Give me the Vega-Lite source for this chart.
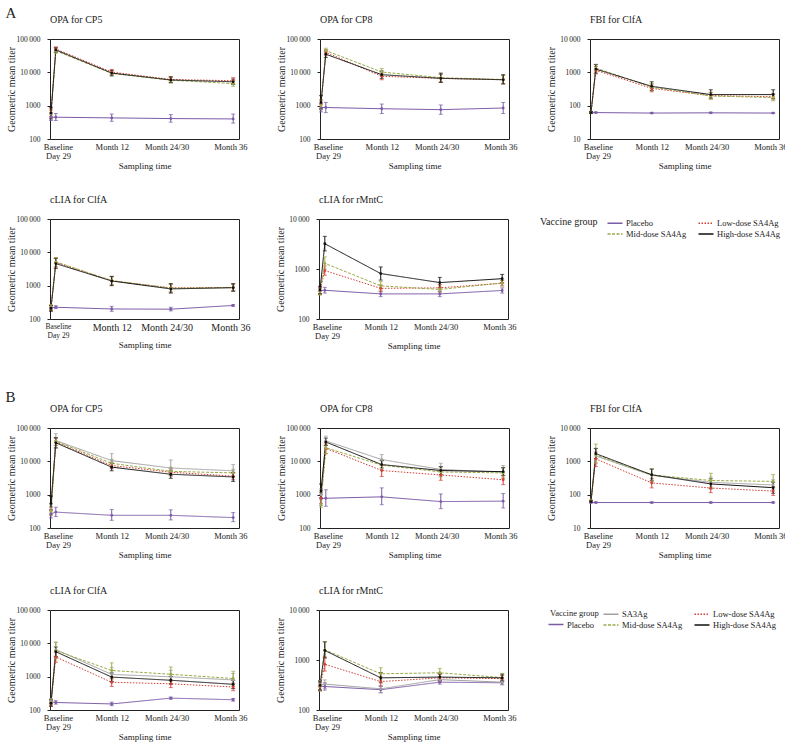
{
"$schema":"https://vega.github.io/schema/vega-lite/v6.json",
"background":"white",
"padding":{"left":5,"top":5,"right":0,"bottom":5},
"datasets":{"d":[
{"p":"A1","g":"Placebo","t":0,"v":450,"lo":360,"hi":560},
{"p":"A1","g":"Placebo","t":29,"v":450,"lo":360,"hi":580},
{"p":"A1","g":"Placebo","t":365,"v":430,"lo":340,"hi":560},
{"p":"A1","g":"Placebo","t":720,"v":410,"lo":320,"hi":540},
{"p":"A1","g":"Placebo","t":1095,"v":400,"lo":300,"hi":560},
{"p":"A1","g":"Low-dose SA4Ag","t":0,"v":620,"lo":480,"hi":800},
{"p":"A1","g":"Low-dose SA4Ag","t":29,"v":50000,"lo":43000,"hi":58000},
{"p":"A1","g":"Low-dose SA4Ag","t":365,"v":10200,"lo":8600,"hi":12200},
{"p":"A1","g":"Low-dose SA4Ag","t":720,"v":6100,"lo":5100,"hi":7400},
{"p":"A1","g":"Low-dose SA4Ag","t":1095,"v":5600,"lo":4600,"hi":6900},
{"p":"A1","g":"Mid-dose SA4Ag","t":0,"v":560,"lo":430,"hi":730},
{"p":"A1","g":"Mid-dose SA4Ag","t":29,"v":44000,"lo":37000,"hi":52000},
{"p":"A1","g":"Mid-dose SA4Ag","t":365,"v":9300,"lo":7800,"hi":11000},
{"p":"A1","g":"Mid-dose SA4Ag","t":720,"v":5800,"lo":4800,"hi":7000},
{"p":"A1","g":"Mid-dose SA4Ag","t":1095,"v":4600,"lo":3800,"hi":5600},
{"p":"A1","g":"High-dose SA4Ag","t":0,"v":600,"lo":400,"hi":900},
{"p":"A1","g":"High-dose SA4Ag","t":29,"v":47000,"lo":40000,"hi":55000},
{"p":"A1","g":"High-dose SA4Ag","t":365,"v":9500,"lo":7900,"hi":11500},
{"p":"A1","g":"High-dose SA4Ag","t":720,"v":5900,"lo":4900,"hi":7300},
{"p":"A1","g":"High-dose SA4Ag","t":1095,"v":5200,"lo":4300,"hi":6300},
{"p":"A2","g":"Placebo","t":0,"v":880,"lo":650,"hi":1150},
{"p":"A2","g":"Placebo","t":29,"v":880,"lo":620,"hi":1250},
{"p":"A2","g":"Placebo","t":365,"v":810,"lo":580,"hi":1120},
{"p":"A2","g":"Placebo","t":720,"v":760,"lo":550,"hi":1050},
{"p":"A2","g":"Placebo","t":1095,"v":850,"lo":580,"hi":1250},
{"p":"A2","g":"Low-dose SA4Ag","t":0,"v":1100,"lo":800,"hi":1500},
{"p":"A2","g":"Low-dose SA4Ag","t":29,"v":40000,"lo":33000,"hi":48000},
{"p":"A2","g":"Low-dose SA4Ag","t":365,"v":7600,"lo":6000,"hi":9600},
{"p":"A2","g":"Low-dose SA4Ag","t":720,"v":6600,"lo":5000,"hi":8600},
{"p":"A2","g":"Low-dose SA4Ag","t":1095,"v":6000,"lo":4500,"hi":8000},
{"p":"A2","g":"Mid-dose SA4Ag","t":0,"v":1000,"lo":750,"hi":1400},
{"p":"A2","g":"Mid-dose SA4Ag","t":29,"v":45000,"lo":37000,"hi":53000},
{"p":"A2","g":"Mid-dose SA4Ag","t":365,"v":10200,"lo":8000,"hi":13000},
{"p":"A2","g":"Mid-dose SA4Ag","t":720,"v":6900,"lo":5300,"hi":9000},
{"p":"A2","g":"Mid-dose SA4Ag","t":1095,"v":6100,"lo":4600,"hi":8100},
{"p":"A2","g":"High-dose SA4Ag","t":0,"v":1250,"lo":800,"hi":2000},
{"p":"A2","g":"High-dose SA4Ag","t":29,"v":35000,"lo":28000,"hi":44000},
{"p":"A2","g":"High-dose SA4Ag","t":365,"v":8500,"lo":6600,"hi":11000},
{"p":"A2","g":"High-dose SA4Ag","t":720,"v":6600,"lo":5000,"hi":9500},
{"p":"A2","g":"High-dose SA4Ag","t":1095,"v":6000,"lo":4500,"hi":8500},
{"p":"A3","g":"Placebo","t":0,"v":62,"lo":60,"hi":65},
{"p":"A3","g":"Placebo","t":29,"v":62,"lo":60,"hi":65},
{"p":"A3","g":"Placebo","t":365,"v":60,"lo":58,"hi":63},
{"p":"A3","g":"Placebo","t":720,"v":61,"lo":59,"hi":64},
{"p":"A3","g":"Placebo","t":1095,"v":60,"lo":58,"hi":63},
{"p":"A3","g":"Low-dose SA4Ag","t":0,"v":62,"lo":58,"hi":67},
{"p":"A3","g":"Low-dose SA4Ag","t":29,"v":1150,"lo":900,"hi":1500},
{"p":"A3","g":"Low-dose SA4Ag","t":365,"v":330,"lo":260,"hi":420},
{"p":"A3","g":"Low-dose SA4Ag","t":720,"v":200,"lo":160,"hi":250},
{"p":"A3","g":"Low-dose SA4Ag","t":1095,"v":185,"lo":150,"hi":230},
{"p":"A3","g":"Mid-dose SA4Ag","t":0,"v":62,"lo":58,"hi":67},
{"p":"A3","g":"Mid-dose SA4Ag","t":29,"v":1350,"lo":1050,"hi":1750},
{"p":"A3","g":"Mid-dose SA4Ag","t":365,"v":360,"lo":280,"hi":460},
{"p":"A3","g":"Mid-dose SA4Ag","t":720,"v":195,"lo":155,"hi":245},
{"p":"A3","g":"Mid-dose SA4Ag","t":1095,"v":175,"lo":140,"hi":220},
{"p":"A3","g":"High-dose SA4Ag","t":0,"v":62,"lo":58,"hi":67},
{"p":"A3","g":"High-dose SA4Ag","t":29,"v":1250,"lo":950,"hi":1700},
{"p":"A3","g":"High-dose SA4Ag","t":365,"v":380,"lo":290,"hi":520},
{"p":"A3","g":"High-dose SA4Ag","t":720,"v":215,"lo":170,"hi":300},
{"p":"A3","g":"High-dose SA4Ag","t":1095,"v":215,"lo":165,"hi":300},
{"p":"A4","g":"Placebo","t":0,"v":220,"lo":195,"hi":250},
{"p":"A4","g":"Placebo","t":29,"v":225,"lo":205,"hi":250},
{"p":"A4","g":"Placebo","t":365,"v":200,"lo":170,"hi":240},
{"p":"A4","g":"Placebo","t":720,"v":197,"lo":175,"hi":225},
{"p":"A4","g":"Placebo","t":1095,"v":255,"lo":240,"hi":270},
{"p":"A4","g":"Low-dose SA4Ag","t":0,"v":220,"lo":180,"hi":260},
{"p":"A4","g":"Low-dose SA4Ag","t":29,"v":5000,"lo":3600,"hi":6800},
{"p":"A4","g":"Low-dose SA4Ag","t":365,"v":1400,"lo":1050,"hi":1850},
{"p":"A4","g":"Low-dose SA4Ag","t":720,"v":860,"lo":650,"hi":1100},
{"p":"A4","g":"Low-dose SA4Ag","t":1095,"v":880,"lo":700,"hi":1100},
{"p":"A4","g":"Mid-dose SA4Ag","t":0,"v":230,"lo":190,"hi":270},
{"p":"A4","g":"Mid-dose SA4Ag","t":29,"v":5200,"lo":3800,"hi":7000},
{"p":"A4","g":"Mid-dose SA4Ag","t":365,"v":1420,"lo":1050,"hi":1900},
{"p":"A4","g":"Mid-dose SA4Ag","t":720,"v":840,"lo":620,"hi":1100},
{"p":"A4","g":"Mid-dose SA4Ag","t":1095,"v":880,"lo":700,"hi":1120},
{"p":"A4","g":"High-dose SA4Ag","t":0,"v":210,"lo":170,"hi":250},
{"p":"A4","g":"High-dose SA4Ag","t":29,"v":4600,"lo":3300,"hi":6600},
{"p":"A4","g":"High-dose SA4Ag","t":365,"v":1380,"lo":1000,"hi":1900},
{"p":"A4","g":"High-dose SA4Ag","t":720,"v":800,"lo":600,"hi":1150},
{"p":"A4","g":"High-dose SA4Ag","t":1095,"v":870,"lo":680,"hi":1150},
{"p":"A5","g":"Placebo","t":0,"v":370,"lo":320,"hi":420},
{"p":"A5","g":"Placebo","t":29,"v":375,"lo":330,"hi":430},
{"p":"A5","g":"Placebo","t":365,"v":318,"lo":280,"hi":360},
{"p":"A5","g":"Placebo","t":720,"v":318,"lo":280,"hi":360},
{"p":"A5","g":"Placebo","t":1095,"v":372,"lo":330,"hi":420},
{"p":"A5","g":"Low-dose SA4Ag","t":0,"v":360,"lo":310,"hi":420},
{"p":"A5","g":"Low-dose SA4Ag","t":29,"v":930,"lo":750,"hi":1150},
{"p":"A5","g":"Low-dose SA4Ag","t":365,"v":410,"lo":350,"hi":480},
{"p":"A5","g":"Low-dose SA4Ag","t":720,"v":420,"lo":360,"hi":490},
{"p":"A5","g":"Low-dose SA4Ag","t":1095,"v":520,"lo":460,"hi":590},
{"p":"A5","g":"Mid-dose SA4Ag","t":0,"v":350,"lo":300,"hi":410},
{"p":"A5","g":"Mid-dose SA4Ag","t":29,"v":1300,"lo":1000,"hi":1750},
{"p":"A5","g":"Mid-dose SA4Ag","t":365,"v":460,"lo":380,"hi":560},
{"p":"A5","g":"Mid-dose SA4Ag","t":720,"v":390,"lo":340,"hi":460},
{"p":"A5","g":"Mid-dose SA4Ag","t":1095,"v":525,"lo":460,"hi":600},
{"p":"A5","g":"High-dose SA4Ag","t":0,"v":380,"lo":320,"hi":450},
{"p":"A5","g":"High-dose SA4Ag","t":29,"v":3200,"lo":2300,"hi":4500},
{"p":"A5","g":"High-dose SA4Ag","t":365,"v":810,"lo":600,"hi":1100},
{"p":"A5","g":"High-dose SA4Ag","t":720,"v":535,"lo":420,"hi":680},
{"p":"A5","g":"High-dose SA4Ag","t":1095,"v":640,"lo":530,"hi":780},
{"p":"B1","g":"Placebo","t":0,"v":265,"lo":200,"hi":350},
{"p":"B1","g":"Placebo","t":29,"v":300,"lo":220,"hi":420},
{"p":"B1","g":"Placebo","t":365,"v":240,"lo":170,"hi":360},
{"p":"B1","g":"Placebo","t":720,"v":240,"lo":175,"hi":350},
{"p":"B1","g":"Placebo","t":1095,"v":205,"lo":155,"hi":290},
{"p":"B1","g":"SA3Ag","t":0,"v":380,"lo":280,"hi":500},
{"p":"B1","g":"SA3Ag","t":29,"v":42000,"lo":26000,"hi":68000},
{"p":"B1","g":"SA3Ag","t":365,"v":10500,"lo":6500,"hi":17000},
{"p":"B1","g":"SA3Ag","t":720,"v":6300,"lo":3700,"hi":11000},
{"p":"B1","g":"SA3Ag","t":1095,"v":5200,"lo":3400,"hi":8000},
{"p":"B1","g":"Low-dose SA4Ag","t":0,"v":330,"lo":250,"hi":430},
{"p":"B1","g":"Low-dose SA4Ag","t":29,"v":38000,"lo":30000,"hi":48000},
{"p":"B1","g":"Low-dose SA4Ag","t":365,"v":7500,"lo":6000,"hi":9400},
{"p":"B1","g":"Low-dose SA4Ag","t":720,"v":4700,"lo":3700,"hi":6000},
{"p":"B1","g":"Low-dose SA4Ag","t":1095,"v":3600,"lo":2800,"hi":4600},
{"p":"B1","g":"Mid-dose SA4Ag","t":0,"v":320,"lo":240,"hi":420},
{"p":"B1","g":"Mid-dose SA4Ag","t":29,"v":40000,"lo":30000,"hi":52000},
{"p":"B1","g":"Mid-dose SA4Ag","t":365,"v":8700,"lo":6500,"hi":11500},
{"p":"B1","g":"Mid-dose SA4Ag","t":720,"v":5000,"lo":3800,"hi":6600},
{"p":"B1","g":"Mid-dose SA4Ag","t":1095,"v":4500,"lo":3500,"hi":5800},
{"p":"B1","g":"High-dose SA4Ag","t":0,"v":550,"lo":350,"hi":900},
{"p":"B1","g":"High-dose SA4Ag","t":29,"v":36000,"lo":25000,"hi":52000},
{"p":"B1","g":"High-dose SA4Ag","t":365,"v":6700,"lo":5200,"hi":8600},
{"p":"B1","g":"High-dose SA4Ag","t":720,"v":4100,"lo":3100,"hi":5400},
{"p":"B1","g":"High-dose SA4Ag","t":1095,"v":3400,"lo":2500,"hi":4500},
{"p":"B2","g":"Placebo","t":0,"v":770,"lo":480,"hi":1000},
{"p":"B2","g":"Placebo","t":29,"v":780,"lo":450,"hi":1400},
{"p":"B2","g":"Placebo","t":365,"v":860,"lo":500,"hi":1600},
{"p":"B2","g":"Placebo","t":720,"v":620,"lo":380,"hi":1050},
{"p":"B2","g":"Placebo","t":1095,"v":640,"lo":400,"hi":1080},
{"p":"B2","g":"SA3Ag","t":0,"v":1000,"lo":700,"hi":1500},
{"p":"B2","g":"SA3Ag","t":29,"v":41000,"lo":30000,"hi":57000},
{"p":"B2","g":"SA3Ag","t":365,"v":11300,"lo":8000,"hi":16000},
{"p":"B2","g":"SA3Ag","t":720,"v":5700,"lo":3600,"hi":8800},
{"p":"B2","g":"SA3Ag","t":1095,"v":4700,"lo":3000,"hi":7500},
{"p":"B2","g":"Low-dose SA4Ag","t":0,"v":800,"lo":550,"hi":1150},
{"p":"B2","g":"Low-dose SA4Ag","t":29,"v":24500,"lo":17000,"hi":33000},
{"p":"B2","g":"Low-dose SA4Ag","t":365,"v":5300,"lo":3500,"hi":7500},
{"p":"B2","g":"Low-dose SA4Ag","t":720,"v":3900,"lo":2700,"hi":5200},
{"p":"B2","g":"Low-dose SA4Ag","t":1095,"v":2800,"lo":2000,"hi":3800},
{"p":"B2","g":"Mid-dose SA4Ag","t":0,"v":500,"lo":420,"hi":1200},
{"p":"B2","g":"Mid-dose SA4Ag","t":29,"v":25500,"lo":17000,"hi":37000},
{"p":"B2","g":"Mid-dose SA4Ag","t":365,"v":7700,"lo":5500,"hi":10500},
{"p":"B2","g":"Mid-dose SA4Ag","t":720,"v":4800,"lo":3400,"hi":6500},
{"p":"B2","g":"Mid-dose SA4Ag","t":1095,"v":4500,"lo":3200,"hi":6200},
{"p":"B2","g":"High-dose SA4Ag","t":0,"v":1300,"lo":800,"hi":2100},
{"p":"B2","g":"High-dose SA4Ag","t":29,"v":38000,"lo":30000,"hi":50000},
{"p":"B2","g":"High-dose SA4Ag","t":365,"v":8000,"lo":6300,"hi":10500},
{"p":"B2","g":"High-dose SA4Ag","t":720,"v":5300,"lo":4000,"hi":7000},
{"p":"B2","g":"High-dose SA4Ag","t":1095,"v":4900,"lo":3700,"hi":6500},
{"p":"B3","g":"Placebo","t":0,"v":58,"lo":56,"hi":61},
{"p":"B3","g":"Placebo","t":29,"v":58,"lo":56,"hi":61},
{"p":"B3","g":"Placebo","t":365,"v":58,"lo":56,"hi":61},
{"p":"B3","g":"Placebo","t":720,"v":58,"lo":56,"hi":61},
{"p":"B3","g":"Placebo","t":1095,"v":58,"lo":56,"hi":61},
{"p":"B3","g":"SA3Ag","t":0,"v":64,"lo":60,"hi":68},
{"p":"B3","g":"SA3Ag","t":29,"v":1450,"lo":900,"hi":2400},
{"p":"B3","g":"SA3Ag","t":365,"v":380,"lo":250,"hi":600},
{"p":"B3","g":"SA3Ag","t":720,"v":235,"lo":160,"hi":340},
{"p":"B3","g":"SA3Ag","t":1095,"v":195,"lo":140,"hi":280},
{"p":"B3","g":"Low-dose SA4Ag","t":0,"v":64,"lo":60,"hi":68},
{"p":"B3","g":"Low-dose SA4Ag","t":29,"v":1180,"lo":700,"hi":1900},
{"p":"B3","g":"Low-dose SA4Ag","t":365,"v":225,"lo":160,"hi":310},
{"p":"B3","g":"Low-dose SA4Ag","t":720,"v":158,"lo":115,"hi":215},
{"p":"B3","g":"Low-dose SA4Ag","t":1095,"v":128,"lo":95,"hi":170},
{"p":"B3","g":"Mid-dose SA4Ag","t":0,"v":64,"lo":60,"hi":68},
{"p":"B3","g":"Mid-dose SA4Ag","t":29,"v":1550,"lo":850,"hi":3300},
{"p":"B3","g":"Mid-dose SA4Ag","t":365,"v":390,"lo":250,"hi":600},
{"p":"B3","g":"Mid-dose SA4Ag","t":720,"v":266,"lo":170,"hi":440},
{"p":"B3","g":"Mid-dose SA4Ag","t":1095,"v":250,"lo":170,"hi":400},
{"p":"B3","g":"High-dose SA4Ag","t":0,"v":62,"lo":58,"hi":67},
{"p":"B3","g":"High-dose SA4Ag","t":29,"v":1700,"lo":1200,"hi":2450},
{"p":"B3","g":"High-dose SA4Ag","t":365,"v":395,"lo":270,"hi":580},
{"p":"B3","g":"High-dose SA4Ag","t":720,"v":210,"lo":150,"hi":300},
{"p":"B3","g":"High-dose SA4Ag","t":1095,"v":162,"lo":110,"hi":235},
{"p":"B4","g":"Placebo","t":0,"v":175,"lo":150,"hi":200},
{"p":"B4","g":"Placebo","t":29,"v":168,"lo":150,"hi":190},
{"p":"B4","g":"Placebo","t":365,"v":152,"lo":135,"hi":172},
{"p":"B4","g":"Placebo","t":720,"v":227,"lo":210,"hi":245},
{"p":"B4","g":"Placebo","t":1095,"v":203,"lo":185,"hi":222},
{"p":"B4","g":"SA3Ag","t":0,"v":180,"lo":145,"hi":220},
{"p":"B4","g":"SA3Ag","t":29,"v":6500,"lo":4000,"hi":10500},
{"p":"B4","g":"SA3Ag","t":365,"v":1170,"lo":700,"hi":1900},
{"p":"B4","g":"SA3Ag","t":720,"v":990,"lo":620,"hi":1550},
{"p":"B4","g":"SA3Ag","t":1095,"v":800,"lo":520,"hi":1250},
{"p":"B4","g":"Low-dose SA4Ag","t":0,"v":160,"lo":130,"hi":200},
{"p":"B4","g":"Low-dose SA4Ag","t":29,"v":3900,"lo":2700,"hi":5500},
{"p":"B4","g":"Low-dose SA4Ag","t":365,"v":680,"lo":510,"hi":900},
{"p":"B4","g":"Low-dose SA4Ag","t":720,"v":610,"lo":470,"hi":800},
{"p":"B4","g":"Low-dose SA4Ag","t":1095,"v":490,"lo":380,"hi":640},
{"p":"B4","g":"Mid-dose SA4Ag","t":0,"v":170,"lo":140,"hi":210},
{"p":"B4","g":"Mid-dose SA4Ag","t":29,"v":6100,"lo":3500,"hi":11000},
{"p":"B4","g":"Mid-dose SA4Ag","t":365,"v":1530,"lo":850,"hi":2600},
{"p":"B4","g":"Mid-dose SA4Ag","t":720,"v":1180,"lo":720,"hi":1950},
{"p":"B4","g":"Mid-dose SA4Ag","t":1095,"v":880,"lo":520,"hi":1450},
{"p":"B4","g":"High-dose SA4Ag","t":0,"v":160,"lo":130,"hi":200},
{"p":"B4","g":"High-dose SA4Ag","t":29,"v":5600,"lo":4000,"hi":7800},
{"p":"B4","g":"High-dose SA4Ag","t":365,"v":970,"lo":720,"hi":1300},
{"p":"B4","g":"High-dose SA4Ag","t":720,"v":780,"lo":600,"hi":1020},
{"p":"B4","g":"High-dose SA4Ag","t":1095,"v":590,"lo":440,"hi":780},
{"p":"B5","g":"Placebo","t":0,"v":300,"lo":255,"hi":350},
{"p":"B5","g":"Placebo","t":29,"v":295,"lo":250,"hi":350},
{"p":"B5","g":"Placebo","t":365,"v":255,"lo":220,"hi":295},
{"p":"B5","g":"Placebo","t":720,"v":360,"lo":330,"hi":395},
{"p":"B5","g":"Placebo","t":1095,"v":350,"lo":320,"hi":385},
{"p":"B5","g":"SA3Ag","t":0,"v":320,"lo":260,"hi":390},
{"p":"B5","g":"SA3Ag","t":29,"v":330,"lo":270,"hi":400},
{"p":"B5","g":"SA3Ag","t":365,"v":265,"lo":225,"hi":310},
{"p":"B5","g":"SA3Ag","t":720,"v":405,"lo":360,"hi":455},
{"p":"B5","g":"SA3Ag","t":1095,"v":360,"lo":320,"hi":405},
{"p":"B5","g":"Low-dose SA4Ag","t":0,"v":290,"lo":240,"hi":350},
{"p":"B5","g":"Low-dose SA4Ag","t":29,"v":820,"lo":600,"hi":1150},
{"p":"B5","g":"Low-dose SA4Ag","t":365,"v":370,"lo":300,"hi":460},
{"p":"B5","g":"Low-dose SA4Ag","t":720,"v":440,"lo":370,"hi":520},
{"p":"B5","g":"Low-dose SA4Ag","t":1095,"v":425,"lo":370,"hi":490},
{"p":"B5","g":"Mid-dose SA4Ag","t":0,"v":300,"lo":240,"hi":370},
{"p":"B5","g":"Mid-dose SA4Ag","t":29,"v":1600,"lo":1100,"hi":2350},
{"p":"B5","g":"Mid-dose SA4Ag","t":365,"v":530,"lo":400,"hi":700},
{"p":"B5","g":"Mid-dose SA4Ag","t":720,"v":555,"lo":460,"hi":680},
{"p":"B5","g":"Mid-dose SA4Ag","t":1095,"v":445,"lo":380,"hi":540},
{"p":"B5","g":"High-dose SA4Ag","t":0,"v":310,"lo":250,"hi":380},
{"p":"B5","g":"High-dose SA4Ag","t":29,"v":1550,"lo":1100,"hi":2300},
{"p":"B5","g":"High-dose SA4Ag","t":365,"v":440,"lo":350,"hi":560},
{"p":"B5","g":"High-dose SA4Ag","t":720,"v":455,"lo":390,"hi":530},
{"p":"B5","g":"High-dose SA4Ag","t":1095,"v":440,"lo":380,"hi":520}
]},
"data":{"name":"d"},
"config":{
 "font":"Liberation Serif",
 "view":{"stroke":"#222","strokeWidth":1},
 "axis":{"grid":false,"domain":false,"labelColor":"#222","titleColor":"#222","tickColor":"#222","titleFontWeight":"normal","labelOverlap":false},
 "axisX":{"ticks":false,"labelFontSize":8.5,"labelPadding":3,"labelLineHeight":9.5,"titleFontSize":9,"titlePadding":1,"labelAngle":0,"labelFlush":false},
 "axisY":{"tickSize":3,"labelPadding":7,"labelFontSize":7.5,"titleFontSize":10,"titlePadding":1,"minExtent":33,"maxExtent":33},
 "title":{"fontSize":10,"fontWeight":"normal","anchor":"start","offset":10,"color":"#222","frame":"group"},
 "legend":{"labelFontSize":8.5,"titleFontSize":10,"titleFontWeight":"normal","symbolType":"M-1.5,0H1.5","symbolSize":100,"symbolStrokeWidth":1.5,"rowPadding":0,"columnPadding":8,"labelOffset":5,"padding":0,"labelColor":"#222","titleColor":"#222"},
 "concat":{"spacing":27}
},
"resolve":{"legend":{"color":"independent","strokeDash":"independent"}},
"spacing":38,
"vconcat":[
{"title":{"text":"A","fontSize":15,"offset":-6,"anchor":"start","frame":"bounds"},
 "resolve":{"legend":{"color":"independent","strokeDash":"independent"}},
 "spacing":23,
 "vconcat":[
 {"resolve":{"legend":{"color":"independent","strokeDash":"independent"}},"spacing":27,
  "hconcat":[
  {"width":189,"height":100,"title":"OPA for CP5","transform":[{"filter":"datum.p=='A1'"}],
   "encoding":{"x":{"field":"t","type":"quantitative","scale":{"domain":[-6,1130],"nice":false,"zero":false},"axis":{"values":[42,365,695,1078],"labelExpr":"datum.value < 100 ? ['Baseline','Day 29'] : datum.value < 500 ? 'Month 12' : datum.value < 900 ? 'Month 24/30' : 'Month 36'","title":"Sampling time"}},
    "color":{"field":"g","type":"nominal","scale":{"domain":["Placebo","SA3Ag","Low-dose SA4Ag","Mid-dose SA4Ag","High-dose SA4Ag"],"range":["#7b5aa6","#a0a0a0","#d23f36","#9aab47","#111111"]},"legend":null}},
   "layer":[
    {"mark":{"type":"line","strokeWidth":1},"encoding":{"y":{"field":"v","type":"quantitative","title":"Geometric mean titer","scale":{"type":"log","domain":[100,100000],"nice":false},"axis":{"values":[100,1000,10000,100000],"title":"Geometric mean titer","labelExpr":"datum.value >= 10000 ? replace(format(datum.value, ','), ',', '\u2009') : format(datum.value, 'd')"}},"strokeDash":{"field":"g","type":"nominal","scale":{"domain":["SA3Ag","Placebo","Low-dose SA4Ag","Mid-dose SA4Ag","High-dose SA4Ag"],"range":[[1,0],[1,0],[1.5,1.5],[3,1.5],[1,0]]},"legend":null}}},
    {"mark":{"type":"errorbar","ticks":{"size":4},"thickness":1},"encoding":{"y":{"field":"lo","type":"quantitative","title":"Geometric mean titer","scale":{"type":"log","domain":[100,100000],"nice":false}},"y2":{"field":"hi","title":"Geometric mean titer"}}},
    {"mark":{"type":"point","filled":true,"size":8,"opacity":1},"encoding":{"y":{"field":"v","type":"quantitative","title":"Geometric mean titer","scale":{"type":"log","domain":[100,100000],"nice":false}}}}
   ]},
  {"width":189,"height":100,"title":"OPA for CP8","transform":[{"filter":"datum.p=='A2'"}],
   "encoding":{"x":{"field":"t","type":"quantitative","scale":{"domain":[-6,1130],"nice":false,"zero":false},"axis":{"values":[42,365,695,1078],"labelExpr":"datum.value < 100 ? ['Baseline','Day 29'] : datum.value < 500 ? 'Month 12' : datum.value < 900 ? 'Month 24/30' : 'Month 36'","title":"Sampling time"}},
    "color":{"field":"g","type":"nominal","scale":{"domain":["Placebo","SA3Ag","Low-dose SA4Ag","Mid-dose SA4Ag","High-dose SA4Ag"],"range":["#7b5aa6","#a0a0a0","#d23f36","#9aab47","#111111"]},"legend":null}},
   "layer":[
    {"mark":{"type":"line","strokeWidth":1},"encoding":{"y":{"field":"v","type":"quantitative","title":"Geometric mean titer","scale":{"type":"log","domain":[100,100000],"nice":false},"axis":{"values":[100,1000,10000,100000],"title":"Geometric mean titer","labelExpr":"datum.value >= 10000 ? replace(format(datum.value, ','), ',', '\u2009') : format(datum.value, 'd')"}},"strokeDash":{"field":"g","type":"nominal","scale":{"domain":["SA3Ag","Placebo","Low-dose SA4Ag","Mid-dose SA4Ag","High-dose SA4Ag"],"range":[[1,0],[1,0],[1.5,1.5],[3,1.5],[1,0]]},"legend":null}}},
    {"mark":{"type":"errorbar","ticks":{"size":4},"thickness":1},"encoding":{"y":{"field":"lo","type":"quantitative","title":"Geometric mean titer","scale":{"type":"log","domain":[100,100000],"nice":false}},"y2":{"field":"hi","title":"Geometric mean titer"}}},
    {"mark":{"type":"point","filled":true,"size":8,"opacity":1},"encoding":{"y":{"field":"v","type":"quantitative","title":"Geometric mean titer","scale":{"type":"log","domain":[100,100000],"nice":false}}}}
   ]},
  {"width":189,"height":100,"title":"FBI for ClfA","transform":[{"filter":"datum.p=='A3'"}],
   "encoding":{"x":{"field":"t","type":"quantitative","scale":{"domain":[-6,1130],"nice":false,"zero":false},"axis":{"values":[42,365,695,1078],"labelExpr":"datum.value < 100 ? ['Baseline','Day 29'] : datum.value < 500 ? 'Month 12' : datum.value < 900 ? 'Month 24/30' : 'Month 36'","title":"Sampling time"}},
    "color":{"field":"g","type":"nominal","scale":{"domain":["Placebo","SA3Ag","Low-dose SA4Ag","Mid-dose SA4Ag","High-dose SA4Ag"],"range":["#7b5aa6","#a0a0a0","#d23f36","#9aab47","#111111"]},"legend":null}},
   "layer":[
    {"mark":{"type":"line","strokeWidth":1},"encoding":{"y":{"field":"v","type":"quantitative","title":"Geometric mean titer","scale":{"type":"log","domain":[10,10000],"nice":false},"axis":{"values":[10,100,1000,10000],"title":"Geometric mean titer","labelExpr":"datum.value >= 10000 ? replace(format(datum.value, ','), ',', '\u2009') : format(datum.value, 'd')"}},"strokeDash":{"field":"g","type":"nominal","scale":{"domain":["SA3Ag","Placebo","Low-dose SA4Ag","Mid-dose SA4Ag","High-dose SA4Ag"],"range":[[1,0],[1,0],[1.5,1.5],[3,1.5],[1,0]]},"legend":null}}},
    {"mark":{"type":"errorbar","ticks":{"size":4},"thickness":1},"encoding":{"y":{"field":"lo","type":"quantitative","title":"Geometric mean titer","scale":{"type":"log","domain":[10,10000],"nice":false}},"y2":{"field":"hi","title":"Geometric mean titer"}}},
    {"mark":{"type":"point","filled":true,"size":8,"opacity":1},"encoding":{"y":{"field":"v","type":"quantitative","title":"Geometric mean titer","scale":{"type":"log","domain":[10,10000],"nice":false}}}}
   ]}
  ]},
 {"resolve":{"legend":{"color":"independent","strokeDash":"independent"}},"spacing":23,
  "hconcat":[
  {"width":189,"height":100,"title":"cLIA for ClfA","transform":[{"filter":"datum.p=='A4'"}],
   "encoding":{"x":{"field":"t","type":"quantitative","scale":{"domain":[-6,1130],"nice":false,"zero":false},"axis":{"values":[42,365,695,1078],"labelExpr":"datum.value < 100 ? ['Baseline','Day 29'] : datum.value < 500 ? 'Month 12' : datum.value < 900 ? 'Month 24/30' : 'Month 36'","title":"Sampling time","labelFontSize":{"condition":{"test":"datum.value < 100","value":7.5},"value":10}}},
    "color":{"field":"g","type":"nominal","scale":{"domain":["Placebo","SA3Ag","Low-dose SA4Ag","Mid-dose SA4Ag","High-dose SA4Ag"],"range":["#7b5aa6","#a0a0a0","#d23f36","#9aab47","#111111"]},"legend":null}},
   "layer":[
    {"mark":{"type":"line","strokeWidth":1},"encoding":{"y":{"field":"v","type":"quantitative","title":"Geometric mean titer","scale":{"type":"log","domain":[100,100000],"nice":false},"axis":{"values":[100,1000,10000,100000],"title":"Geometric mean titer","labelExpr":"datum.value >= 10000 ? replace(format(datum.value, ','), ',', '\u2009') : format(datum.value, 'd')"}},"strokeDash":{"field":"g","type":"nominal","scale":{"domain":["SA3Ag","Placebo","Low-dose SA4Ag","Mid-dose SA4Ag","High-dose SA4Ag"],"range":[[1,0],[1,0],[1.5,1.5],[3,1.5],[1,0]]},"legend":null}}},
    {"mark":{"type":"errorbar","ticks":{"size":4},"thickness":1},"encoding":{"y":{"field":"lo","type":"quantitative","title":"Geometric mean titer","scale":{"type":"log","domain":[100,100000],"nice":false}},"y2":{"field":"hi","title":"Geometric mean titer"}}},
    {"mark":{"type":"point","filled":true,"size":8,"opacity":1},"encoding":{"y":{"field":"v","type":"quantitative","title":"Geometric mean titer","scale":{"type":"log","domain":[100,100000],"nice":false}}}}
   ]},
  {"width":189,"height":100,"title":"cLIA for rMntC","transform":[{"filter":"datum.p=='A5'"}],
   "encoding":{"x":{"field":"t","type":"quantitative","scale":{"domain":[-6,1130],"nice":false,"zero":false},"axis":{"values":[42,365,695,1078],"labelExpr":"datum.value < 100 ? ['Baseline','Day 29'] : datum.value < 500 ? 'Month 12' : datum.value < 900 ? 'Month 24/30' : 'Month 36'","title":"Sampling time"}},
    "color":{"field":"g","type":"nominal","scale":{"domain":["Placebo","SA3Ag","Low-dose SA4Ag","Mid-dose SA4Ag","High-dose SA4Ag"],"range":["#7b5aa6","#a0a0a0","#d23f36","#9aab47","#111111"]},
     "legend":{"values":["Placebo","Low-dose SA4Ag","Mid-dose SA4Ag","High-dose SA4Ag"],"orient":"none","legendX":221,"legendY":-2,"title":"Vaccine group","titleOrient":"left","titleAnchor":"start","titlePadding":11,"columns":2,"direction":"horizontal",
      "encode":{"symbols":{"update":{"strokeDash":{"signal":"datum.value == 'Low-dose SA4Ag' ? [1.5,1.5] : datum.value == 'Mid-dose SA4Ag' ? [3,1.5] : [1,0]"}}}}}}},
   "layer":[
    {"mark":{"type":"line","strokeWidth":1},"encoding":{"y":{"field":"v","type":"quantitative","title":"Geometric mean titer","scale":{"type":"log","domain":[100,10000],"nice":false},"axis":{"values":[100,1000,10000],"title":"Geometric mean titer","labelExpr":"datum.value >= 10000 ? replace(format(datum.value, ','), ',', '\u2009') : format(datum.value, 'd')"}},"strokeDash":{"field":"g","type":"nominal","scale":{"domain":["SA3Ag","Placebo","Low-dose SA4Ag","Mid-dose SA4Ag","High-dose SA4Ag"],"range":[[1,0],[1,0],[1.5,1.5],[3,1.5],[1,0]]},"legend":null}}},
    {"mark":{"type":"errorbar","ticks":{"size":4},"thickness":1},"encoding":{"y":{"field":"lo","type":"quantitative","title":"Geometric mean titer","scale":{"type":"log","domain":[100,10000],"nice":false}},"y2":{"field":"hi","title":"Geometric mean titer"}}},
    {"mark":{"type":"point","filled":true,"size":8,"opacity":1},"encoding":{"y":{"field":"v","type":"quantitative","title":"Geometric mean titer","scale":{"type":"log","domain":[100,10000],"nice":false}}}}
   ]}
  ]}
 ]},
{"title":{"text":"B","fontSize":15,"offset":-1,"anchor":"start","frame":"bounds"},
 "resolve":{"legend":{"color":"independent","strokeDash":"independent"}},
 "spacing":25,
 "vconcat":[
 {"resolve":{"legend":{"color":"independent","strokeDash":"independent"}},"spacing":27,
  "hconcat":[
  {"width":189,"height":100,"title":"OPA for CP5","transform":[{"filter":"datum.p=='B1'"}],
   "encoding":{"x":{"field":"t","type":"quantitative","scale":{"domain":[-6,1130],"nice":false,"zero":false},"axis":{"values":[42,365,695,1078],"labelExpr":"datum.value < 100 ? ['Baseline','Day 29'] : datum.value < 500 ? 'Month 12' : datum.value < 900 ? 'Month 24/30' : 'Month 36'","title":"Sampling time"}},
    "color":{"field":"g","type":"nominal","scale":{"domain":["Placebo","SA3Ag","Low-dose SA4Ag","Mid-dose SA4Ag","High-dose SA4Ag"],"range":["#7b5aa6","#a0a0a0","#d23f36","#9aab47","#111111"]},"legend":null}},
   "layer":[
    {"mark":{"type":"line","strokeWidth":1},"encoding":{"y":{"field":"v","type":"quantitative","title":"Geometric mean titer","scale":{"type":"log","domain":[100,100000],"nice":false},"axis":{"values":[100,1000,10000,100000],"title":"Geometric mean titer","labelExpr":"datum.value >= 10000 ? replace(format(datum.value, ','), ',', '\u2009') : format(datum.value, 'd')"}},"strokeDash":{"field":"g","type":"nominal","scale":{"domain":["SA3Ag","Placebo","Low-dose SA4Ag","Mid-dose SA4Ag","High-dose SA4Ag"],"range":[[1,0],[1,0],[1.5,1.5],[3,1.5],[1,0]]},"legend":null}}},
    {"mark":{"type":"errorbar","ticks":{"size":4},"thickness":1},"encoding":{"y":{"field":"lo","type":"quantitative","title":"Geometric mean titer","scale":{"type":"log","domain":[100,100000],"nice":false}},"y2":{"field":"hi","title":"Geometric mean titer"}}},
    {"mark":{"type":"point","filled":true,"size":8,"opacity":1},"encoding":{"y":{"field":"v","type":"quantitative","title":"Geometric mean titer","scale":{"type":"log","domain":[100,100000],"nice":false}}}}
   ]},
  {"width":189,"height":100,"title":"OPA for CP8","transform":[{"filter":"datum.p=='B2'"}],
   "encoding":{"x":{"field":"t","type":"quantitative","scale":{"domain":[-6,1130],"nice":false,"zero":false},"axis":{"values":[42,365,695,1078],"labelExpr":"datum.value < 100 ? ['Baseline','Day 29'] : datum.value < 500 ? 'Month 12' : datum.value < 900 ? 'Month 24/30' : 'Month 36'","title":"Sampling time"}},
    "color":{"field":"g","type":"nominal","scale":{"domain":["Placebo","SA3Ag","Low-dose SA4Ag","Mid-dose SA4Ag","High-dose SA4Ag"],"range":["#7b5aa6","#a0a0a0","#d23f36","#9aab47","#111111"]},"legend":null}},
   "layer":[
    {"mark":{"type":"line","strokeWidth":1},"encoding":{"y":{"field":"v","type":"quantitative","title":"Geometric mean titer","scale":{"type":"log","domain":[100,100000],"nice":false},"axis":{"values":[100,1000,10000,100000],"title":"Geometric mean titer","labelExpr":"datum.value >= 10000 ? replace(format(datum.value, ','), ',', '\u2009') : format(datum.value, 'd')"}},"strokeDash":{"field":"g","type":"nominal","scale":{"domain":["SA3Ag","Placebo","Low-dose SA4Ag","Mid-dose SA4Ag","High-dose SA4Ag"],"range":[[1,0],[1,0],[1.5,1.5],[3,1.5],[1,0]]},"legend":null}}},
    {"mark":{"type":"errorbar","ticks":{"size":4},"thickness":1},"encoding":{"y":{"field":"lo","type":"quantitative","title":"Geometric mean titer","scale":{"type":"log","domain":[100,100000],"nice":false}},"y2":{"field":"hi","title":"Geometric mean titer"}}},
    {"mark":{"type":"point","filled":true,"size":8,"opacity":1},"encoding":{"y":{"field":"v","type":"quantitative","title":"Geometric mean titer","scale":{"type":"log","domain":[100,100000],"nice":false}}}}
   ]},
  {"width":189,"height":100,"title":"FBI for ClfA","transform":[{"filter":"datum.p=='B3'"}],
   "encoding":{"x":{"field":"t","type":"quantitative","scale":{"domain":[-6,1130],"nice":false,"zero":false},"axis":{"values":[42,365,695,1078],"labelExpr":"datum.value < 100 ? ['Baseline','Day 29'] : datum.value < 500 ? 'Month 12' : datum.value < 900 ? 'Month 24/30' : 'Month 36'","title":"Sampling time"}},
    "color":{"field":"g","type":"nominal","scale":{"domain":["Placebo","SA3Ag","Low-dose SA4Ag","Mid-dose SA4Ag","High-dose SA4Ag"],"range":["#7b5aa6","#a0a0a0","#d23f36","#9aab47","#111111"]},"legend":null}},
   "layer":[
    {"mark":{"type":"line","strokeWidth":1},"encoding":{"y":{"field":"v","type":"quantitative","title":"Geometric mean titer","scale":{"type":"log","domain":[10,10000],"nice":false},"axis":{"values":[10,100,1000,10000],"title":"Geometric mean titer","labelExpr":"datum.value >= 10000 ? replace(format(datum.value, ','), ',', '\u2009') : format(datum.value, 'd')"}},"strokeDash":{"field":"g","type":"nominal","scale":{"domain":["SA3Ag","Placebo","Low-dose SA4Ag","Mid-dose SA4Ag","High-dose SA4Ag"],"range":[[1,0],[1,0],[1.5,1.5],[3,1.5],[1,0]]},"legend":null}}},
    {"mark":{"type":"errorbar","ticks":{"size":4},"thickness":1},"encoding":{"y":{"field":"lo","type":"quantitative","title":"Geometric mean titer","scale":{"type":"log","domain":[10,10000],"nice":false}},"y2":{"field":"hi","title":"Geometric mean titer"}}},
    {"mark":{"type":"point","filled":true,"size":8,"opacity":1},"encoding":{"y":{"field":"v","type":"quantitative","title":"Geometric mean titer","scale":{"type":"log","domain":[10,10000],"nice":false}}}}
   ]}
  ]},
 {"resolve":{"legend":{"color":"independent","strokeDash":"independent"}},"spacing":26,
  "hconcat":[
  {"width":189,"height":100,"title":"cLIA for ClfA","transform":[{"filter":"datum.p=='B4'"}],
   "encoding":{"x":{"field":"t","type":"quantitative","scale":{"domain":[-6,1130],"nice":false,"zero":false},"axis":{"values":[42,365,695,1078],"labelExpr":"datum.value < 100 ? ['Baseline','Day 29'] : datum.value < 500 ? 'Month 12' : datum.value < 900 ? 'Month 24/30' : 'Month 36'","title":"Sampling time"}},
    "color":{"field":"g","type":"nominal","scale":{"domain":["Placebo","SA3Ag","Low-dose SA4Ag","Mid-dose SA4Ag","High-dose SA4Ag"],"range":["#7b5aa6","#a0a0a0","#d23f36","#9aab47","#111111"]},"legend":null}},
   "layer":[
    {"mark":{"type":"line","strokeWidth":1},"encoding":{"y":{"field":"v","type":"quantitative","title":"Geometric mean titer","scale":{"type":"log","domain":[100,100000],"nice":false},"axis":{"values":[100,1000,10000,100000],"title":"Geometric mean titer","labelExpr":"datum.value >= 10000 ? replace(format(datum.value, ','), ',', '\u2009') : format(datum.value, 'd')"}},"strokeDash":{"field":"g","type":"nominal","scale":{"domain":["SA3Ag","Placebo","Low-dose SA4Ag","Mid-dose SA4Ag","High-dose SA4Ag"],"range":[[1,0],[1,0],[1.5,1.5],[3,1.5],[1,0]]},"legend":null}}},
    {"mark":{"type":"errorbar","ticks":{"size":4},"thickness":1},"encoding":{"y":{"field":"lo","type":"quantitative","title":"Geometric mean titer","scale":{"type":"log","domain":[100,100000],"nice":false}},"y2":{"field":"hi","title":"Geometric mean titer"}}},
    {"mark":{"type":"point","filled":true,"size":8,"opacity":1},"encoding":{"y":{"field":"v","type":"quantitative","title":"Geometric mean titer","scale":{"type":"log","domain":[100,100000],"nice":false}}}}
   ]},
  {"width":189,"height":100,"title":"cLIA for rMntC","transform":[{"filter":"datum.p=='B5'"}],
   "encoding":{"x":{"field":"t","type":"quantitative","scale":{"domain":[-6,1130],"nice":false,"zero":false},"axis":{"values":[42,365,695,1078],"labelExpr":"datum.value < 100 ? ['Baseline','Day 29'] : datum.value < 500 ? 'Month 12' : datum.value < 900 ? 'Month 24/30' : 'Month 36'","title":"Sampling time"}},
    "color":{"field":"g","type":"nominal","scale":{"domain":["Placebo","SA3Ag","Low-dose SA4Ag","Mid-dose SA4Ag","High-dose SA4Ag"],"range":["#7b5aa6","#a0a0a0","#d23f36","#9aab47","#111111"]},
     "legend":{"values":["SA3Ag","Low-dose SA4Ag","Mid-dose SA4Ag","High-dose SA4Ag"],"orient":"none","legendX":286,"legendY":-2,"title":null,"columns":2,"direction":"horizontal",
      "encode":{"symbols":{"update":{"strokeDash":{"signal":"datum.value == 'Low-dose SA4Ag' ? [1.5,1.5] : datum.value == 'Mid-dose SA4Ag' ? [3,1.5] : [1,0]"}}}}}}},
   "layer":[
    {"mark":{"type":"line","strokeWidth":1},"encoding":{"y":{"field":"v","type":"quantitative","title":"Geometric mean titer","scale":{"type":"log","domain":[100,10000],"nice":false},"axis":{"values":[100,1000,10000],"title":"Geometric mean titer","labelExpr":"datum.value >= 10000 ? replace(format(datum.value, ','), ',', '\u2009') : format(datum.value, 'd')"}},"strokeDash":{"field":"g","type":"nominal","scale":{"domain":["SA3Ag","Placebo","Low-dose SA4Ag","Mid-dose SA4Ag","High-dose SA4Ag"],"range":[[1,0],[1,0],[1.5,1.5],[3,1.5],[1,0]]},
      "legend":{"values":["Placebo"],"orient":"none","legendX":231,"legendY":-1,"title":"Vaccine group","titleOrient":"top","titleFontSize":8.5,"titlePadding":1,"symbolStrokeColor":"#7b5aa6"}}}},
    {"mark":{"type":"errorbar","ticks":{"size":4},"thickness":1},"encoding":{"y":{"field":"lo","type":"quantitative","title":"Geometric mean titer","scale":{"type":"log","domain":[100,10000],"nice":false}},"y2":{"field":"hi","title":"Geometric mean titer"}}},
    {"mark":{"type":"point","filled":true,"size":8,"opacity":1},"encoding":{"y":{"field":"v","type":"quantitative","title":"Geometric mean titer","scale":{"type":"log","domain":[100,10000],"nice":false}}}}
   ]}
  ]}
 ]}
]
}
